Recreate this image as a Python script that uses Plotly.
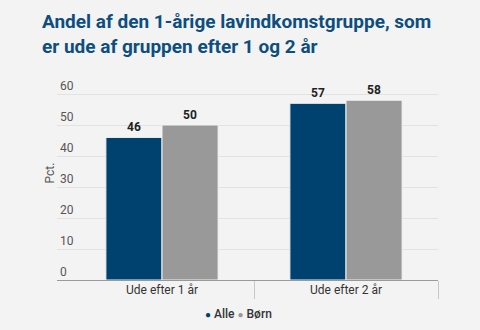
import plotly.graph_objects as go

categories = ["Ude efter 1 år", "Ude efter 2 år"]
series_names = ["Alle", "Børn"]
alle = [46, 57]
born = [50, 58]
colors = ["#00426f", "#999999"]
y_ticks = [0, 10, 20, 30, 40, 50, 60]

PLOT_TOP, PLOT_H = 66, 214
PX_PER_UNIT = 3.1

fig = go.Figure()
for name, vals, col in zip(series_names, [alle, born], colors):
    fig.add_trace(go.Bar(
        x=[0, 1], y=vals, name=name, showlegend=False,
        marker=dict(color=col, line=dict(color="#f3f3f3", width=1)),
        text=[str(v) for v in vals], textposition="outside",
        textfont=dict(family="Roboto", size=12, color="#222222", weight="bold"),
        cliponaxis=False,
    ))

for i, c in enumerate(categories):
    fig.add_annotation(x=i, y=-10 / PLOT_H, xref="x", yref="paper", text=c,
                       showarrow=False, yanchor="middle",
                       font=dict(family="Roboto", size=12, color="#333333"))

# Title
fig.add_annotation(x=(40 - 57) / 381, y=1 + (PLOT_TOP - 8) / PLOT_H, xref="paper", yref="paper",
                   xanchor="left", yanchor="top", align="left", showarrow=False,
                   text="Andel af den 1-årige lavindkomstgruppe, som<br>er ude af gruppen efter 1 og 2 år",
                   font=dict(family="Roboto", size=19, color="#0d4e7e", weight="bold"))

# Legend
legend_text = "&nbsp;".join(
    f"<span style='color:{c};font-size:10px'>●</span> {n}" for n, c in zip(series_names, colors))
fig.add_annotation(x=(238 - 57) / 381, y=-(314 - 280) / PLOT_H, xref="paper", yref="paper",
                   xanchor="center", yanchor="middle", showarrow=False, text=legend_text,
                   font=dict(family="Roboto", size=12, color="#333333", weight=500))

fig.update_layout(
    width=480, height=330,
    margin=dict(l=57, r=42, t=PLOT_TOP, b=330 - PLOT_TOP - PLOT_H),
    paper_bgcolor="#f3f3f3", plot_bgcolor="#f3f3f3",
    barmode="group", bargap=0.39, bargroupgap=0,
    showlegend=False,
    font=dict(family="Roboto", size=12, color="#555555"),
    xaxis=dict(range=[-0.5 - 13/184, 1.5], tickvals=[-0.5, 0.5, 1.5], ticktext=["", "", ""],
               ticks="outside", ticklen=18, tickcolor="#c8c8c8", tickwidth=1,
               showgrid=False, showline=True, linecolor="#999999", linewidth=1,
               zeroline=False, fixedrange=True),
    yaxis=dict(range=[0, PLOT_H / PX_PER_UNIT], tickvals=y_ticks, ticklabelposition="inside top",
               showgrid=True, gridcolor="#e2e2e2", gridwidth=1, zeroline=False,
               tickfont=dict(family="Roboto", size=12, color="#555555"),
               title=dict(text="Pct.", standoff=2, font=dict(family="Roboto", size=12, color="#555555"))),
)
fig.write_html("out.html")
